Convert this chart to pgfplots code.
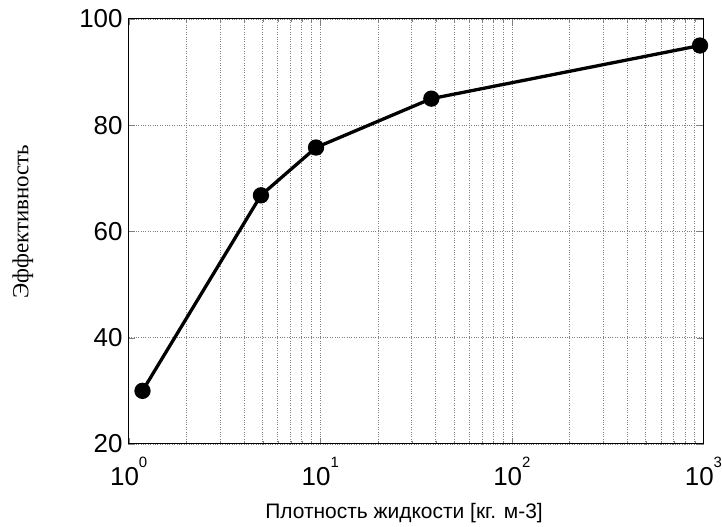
\documentclass[border=0pt]{standalone}
\usepackage{fontspec}
\setmainfont{Liberation Serif}
\newfontfamily\arial{Liberation Sans}
\usepackage{pgfplots}
\pgfplotsset{compat=1.18}

\newcommand{\pw}[1]{10\raisebox{18pt}{\fontsize{15}{15}\selectfont #1}}

\begin{document}
\begin{tikzpicture}
\begin{axis}[
  scale only axis, width=576pt, height=426pt,
  xmode=log, xmin=1, xmax=1000, ymin=20, ymax=100,
  xtick={1,10,100,1000},
  xticklabels={\pw{0},\pw{1},\pw{2},\pw{3}},
  ytick={20,40,60,80,100},
  yticklabels={20,40,60,80,100},
  tick label style={font=\arial\fontsize{26}{26}\selectfont},
  xticklabel style={anchor=base, yshift=-42pt, inner sep=0pt},
  yticklabel style={inner sep=1pt, xshift=-5pt},
  /pgf/number format/assume math mode=true,
  grid=both,
  major grid style={black!50, dotted, line width=0.6pt},
  minor grid style={black!50, dotted, line width=0.6pt},
  tick align=inside, major tick length=6pt, minor tick length=3pt,
  axis line style={line width=1pt},
  xlabel={\arial\fontsize{21}{21}\selectfont Плотность жидкости [кг. м-3]},
  xlabel style={at={(axis description cs:0.479,-0.162)}, anchor=center},
  ylabel={\fontsize{23}{23}\selectfont Эффективность},
  ylabel style={at={(axis description cs:-0.184,0.523)}, anchor=center},
  clip=false,
]
\addplot[black, line width=3.3pt, mark=*, mark size=6.5pt] coordinates {
  (1.18,30) (4.9,66.8) (9.5,75.8) (38,85) (960,95)
};
\path (axis description cs:-0.224,-0.195) rectangle (axis description cs:1.0,1.0446);
\end{axis}
\end{tikzpicture}
\end{document}
